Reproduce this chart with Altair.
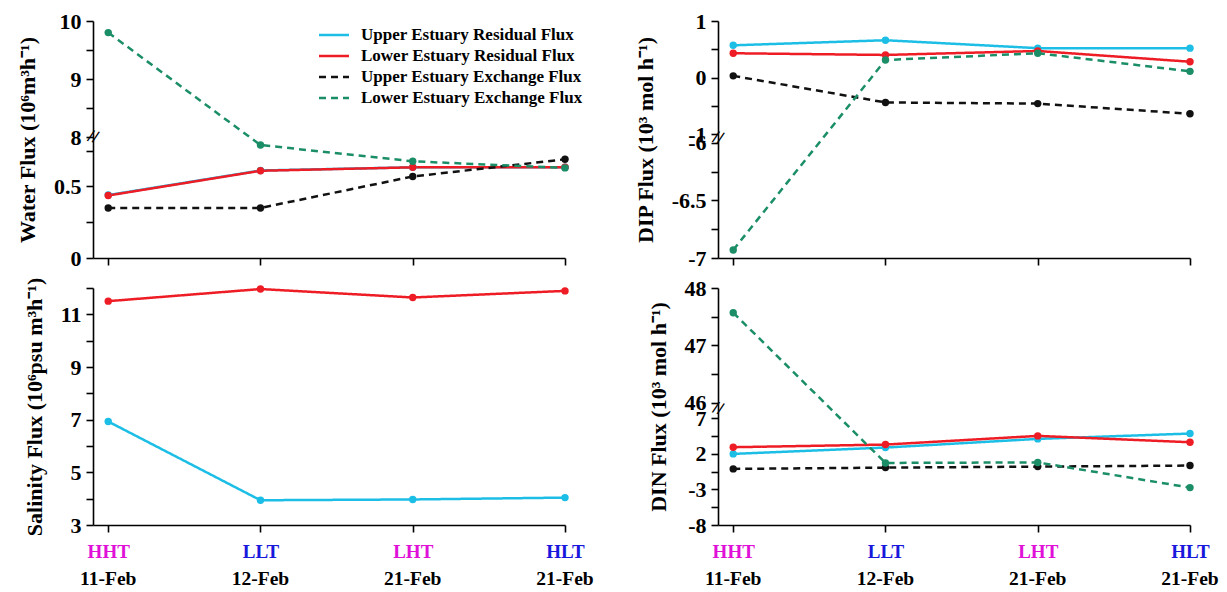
import altair as alt
import pandas as pd

# ---------------- data ----------------
x_pos = [0, 1, 2, 3]
tide_labels = ["HHT", "LLT", "LHT", "HLT"]
date_labels = ["11-Feb", "12-Feb", "21-Feb", "21-Feb"]
series_names = [
    "Upper Estuary Residual Flux",
    "Lower Estuary Residual Flux",
    "Upper Estuary Exchange Flux",
    "Lower Estuary Exchange Flux",
]

water_upper_res = [0.44, 0.612, 0.634, 0.634]
water_lower_res = [0.437, 0.61, 0.634, 0.634]
water_upper_exc = [0.35, 0.35, 0.57, 0.69]
water_lower_exc = [9.8, 0.79, 0.676, 0.63]

dip_upper_res = [0.57, 0.66, 0.52, 0.52]
dip_lower_res = [0.43, 0.40, 0.47, 0.28]
dip_upper_exc = [0.03, -0.44, -0.46, -0.64]
dip_lower_exc = [-6.93, 0.31, 0.43, 0.11]

sal_upper_res = [6.93, 3.94, 3.97, 4.04]
sal_lower_res = [11.5, 11.96, 11.64, 11.89]

din_upper_res = [2.0, 2.89, 4.11, 4.86]
din_lower_res = [2.94, 3.31, 4.53, 3.64]
din_upper_exc = [-0.11, 0.07, 0.21, 0.36]
din_lower_exc = [47.57, 0.73, 0.8, -2.74]

# ---------------- styles ----------------
FONT = "Liberation Serif"
series_colors = ["#1CBEE6", "#EE1C24", "#111111", "#1B8E68"]
series_dashes = [[1, 0], [1, 0], [7, 5], [7, 5]]
PW, PH = 472, 237

# broken-axis segments: (value_min, value_max, display_start, display_length)
water_segs = [(0, 0.845, 0, 360), (8, 10, 360, 346)]
dip_segs = [(-7, -6, 0, 344), (-1, 1, 370, 338)]
sal_segs = [(3, 12, 0, 9)]
din_segs = [(-8, 8.43, 0, 350), (46, 48, 366, 344)]

water_ticks = [(0, "0"), (0.25, ""), (0.5, "0.5"), (0.75, ""), (8, "8"), (8.5, ""), (9, "9"), (9.5, ""), (10, "10")]
dip_ticks = [(-7, "-7"), (-6.75, ""), (-6.5, "-6.5"), (-6.25, ""), (-6, "-6"), (-1, "-1"), (-0.5, ""), (0, "0"), (0.5, ""), (1, "1")]
sal_ticks = [(3, "3"), (4, ""), (5, "5"), (6, ""), (7, "7"), (8, ""), (9, "9"), (10, ""), (11, "11"), (12, "")]
din_ticks = [(-8, "-8"), (-5.5, ""), (-3, "-3"), (-0.5, ""), (2, "2"), (4.5, ""), (7, "7"), (46, "46"), (46.5, ""), (47, "47"), (47.5, ""), (48, "48")]


def to_disp(v, segs):
    for vmin, vmax, d0, ln in segs:
        if vmin - 1e-9 <= v <= vmax + 1e-9:
            return d0 + (v - vmin) / (vmax - vmin) * ln
    return None


def build_df(series_values, segs):
    rows = []
    for name, vals in series_values:
        for x, v in zip(x_pos, vals):
            rows.append({"x": x, "series": name, "value": v, "disp": round(to_disp(v, segs), 3)})
    return pd.DataFrame(rows)


color_scale = alt.Scale(domain=series_names, range=series_colors)
dash_scale = alt.Scale(domain=series_names, range=series_dashes)

legend = alt.Legend(
    orient="none", legendX=232, legendY=5, title=None,
    symbolType="M-2,0L2,0", symbolSize=225, symbolStrokeWidth=2.5,
    labelFont=FONT, labelFontWeight="bold", labelFontSize=17, labelLimit=400,
    rowPadding=4, labelOffset=18,
)


def panel(series_values, segs, ticks, title, bottom, breaks):
    df = build_df(series_values, segs)
    dvals = [round(to_disp(v, segs), 3) for v, _ in ticks]
    expr = "".join(f"abs(datum.value - {d}) < 0.01 ? '{lab}' : " for d, (v, lab) in zip(dvals, ticks)) + "''"
    top = segs[-1][2] + segs[-1][3]
    yax = alt.Axis(values=dvals, tickCount=len(dvals) + 5, labelExpr=expr, title=title, grid=False,
                   labelOverlap=False, tickSize=7, labelPadding=5, titlePadding=14, titleLimit=600,
                   labelFlush=False)
    if bottom:
        xax = alt.Axis(values=x_pos, tickCount=10, labelExpr="['HHT','LLT','LHT','HLT'][datum.value]",
                       labelColor={"condition": {"test": "datum.value == 0 || datum.value == 2", "value": "#E010D8"},
                                   "value": "#1818DC"},
                       labelFontSize=19, labelPadding=10, labelFlush=False, labelOverlap=False,
                       tickSize=7, grid=False, title=None)
    else:
        xax = alt.Axis(values=x_pos, tickCount=10, labels=False, tickSize=7, grid=False, title=None)
    xenc = alt.X("x:Q", scale=alt.Scale(domain=[-0.1, 3], nice=False, zero=False), axis=xax)
    yenc = alt.Y("disp:Q", scale=alt.Scale(domain=[0, top], nice=False, zero=False), axis=yax)
    base = alt.Chart(df)
    lines = base.mark_line(strokeWidth=2.5).encode(
        x=xenc, y=yenc,
        color=alt.Color("series:N", scale=color_scale, legend=legend),
        strokeDash=alt.StrokeDash("series:N", scale=dash_scale, legend=legend),
    )
    pts = base.mark_circle(size=55, opacity=1).encode(
        x="x:Q", y="disp:Q",
        color=alt.Color("series:N", scale=color_scale, legend=None),
    )
    layers = [lines, pts]
    if breaks is not None:
        bdf = pd.DataFrame({"bx": [-0.1], "by": [breaks]})
        brk = alt.Chart(bdf).mark_text(text="//", fontSize=18, fontWeight="bold", font=FONT, color="black",
                                       angle=15).encode(x="bx:Q", y="by:Q")
        layers.append(brk)
    if bottom:
        ddf = pd.DataFrame({"x": x_pos, "date": date_labels})
        dates = alt.Chart(ddf).mark_text(font=FONT, fontWeight="bold", fontSize=19.5, color="black",
                                         baseline="middle").encode(
            x="x:Q", y=alt.value(PH + 54), text="date:N")
        layers.append(dates)
    return alt.layer(*layers).properties(width=PW, height=PH)


water = panel(list(zip(series_names, [water_upper_res, water_lower_res, water_upper_exc, water_lower_exc])),
              water_segs, water_ticks, "Water Flux (10⁶m³h⁻¹)", False, 360)
dip = panel(list(zip(series_names, [dip_upper_res, dip_lower_res, dip_upper_exc, dip_lower_exc])),
            dip_segs, dip_ticks, "DIP Flux (10³ mol h⁻¹)", False, 358)
sal = panel(list(zip(series_names[:2], [sal_upper_res, sal_lower_res])),
            sal_segs, sal_ticks, "Salinity Flux (10⁶psu m³h⁻¹)", True, None)
din = panel(list(zip(series_names, [din_upper_res, din_lower_res, din_upper_exc, din_lower_exc])),
            din_segs, din_ticks, "DIN Flux (10³ mol h⁻¹)", True, 348)

chart = alt.concat(water, dip, sal, din, columns=2, spacing={"row": 8, "column": 40}).resolve_scale(
    x="independent", y="independent"
).properties(
    padding={"left": 16, "top": 10, "right": 2, "bottom": 2}
).configure_axis(
    labelFont=FONT, labelFontWeight="bold", labelFontSize=22, labelColor="black",
    titleFont=FONT, titleFontWeight="bold", titleFontSize=22, titleColor="black",
    domainColor="black", tickColor="black", domainWidth=1.6, tickWidth=1.6,
).configure_view(stroke=None)

chart.save("out.html", embed_options={"renderer": "svg", "actions": False})
